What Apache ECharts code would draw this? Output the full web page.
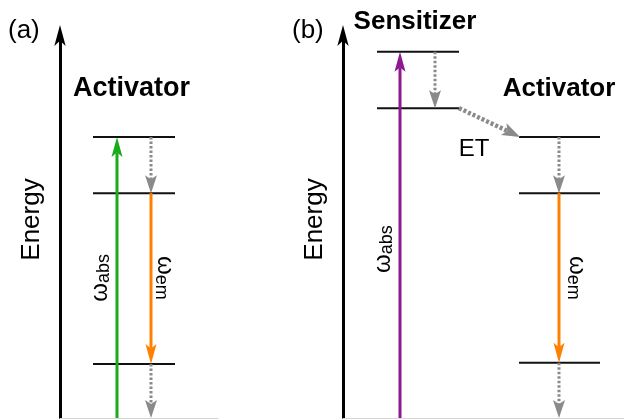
<!DOCTYPE html>
<html>
<head>
<meta charset="utf-8">
<script src="https://cdn.jsdelivr.net/npm/echarts@6/dist/echarts.min.js"></script>
<style>
html,body{margin:0;padding:0;background:#fff;}
#c{width:624px;height:419px;}
</style>
</head>
<body>
<div id="c"></div>
<script>
// ---------------- data (energies in arbitrary units) ----------------
const panelTitles = ['(a)', '(b)'];
const axisTitle = 'Energy';
const groundEnergy = 0;
const activatorLevelsA = [7.34, 5.87, 1.41];
const sensitizerLevelsB = [9.56, 8.09];
const activatorLevelsB = [7.34, 5.87, 1.44];
const nameActivator = 'Activator';
const nameSensitizer = 'Sensitizer';
const labelET = 'ET';
const subAbs = 'abs';
const subEm = 'em';
const omega = '\u03c9';

// ---------------- styles ----------------
const FONT = '"Liberation Sans", Arial, Helvetica, sans-serif';
const C_LEVEL = '#111111';
const C_GRAY = '#8a8a8a';
const C_GREEN = '#1aab1a';
const C_ORANGE = '#ff8000';
const C_PURPLE = '#8e1a8e';

function arrow(api, from, to, color, width, dash, headL, headW) {
  const p0 = api.coord(from), p1 = api.coord(to);
  const dx = p1[0] - p0[0], dy = p1[1] - p0[1];
  const len = Math.hypot(dx, dy);
  const ux = dx / len, uy = dy / len, nx = -uy, ny = ux;
  const notch = headL * 0.78;
  const se = [p1[0] - ux * notch, p1[1] - uy * notch];
  return [
    { type: 'line', shape: { x1: p0[0], y1: p0[1], x2: se[0], y2: se[1] },
      style: { stroke: color, lineWidth: width, lineDash: dash || null, lineCap: 'butt' } },
    { type: 'polygon', shape: { points: [
        [p1[0], p1[1]],
        [p1[0] - ux * headL + nx * headW / 2, p1[1] - uy * headL + ny * headW / 2],
        [se[0], se[1]],
        [p1[0] - ux * headL - nx * headW / 2, p1[1] - uy * headL - ny * headW / 2]
      ] }, style: { fill: color } }
  ];
}
function level(api, x1, x2, e) {
  const a = api.coord([x1, e]), b = api.coord([x2, e]);
  return { type: 'line', shape: { x1: a[0], y1: a[1], x2: b[0], y2: b[1] },
    style: { stroke: C_LEVEL, lineWidth: 2 } };
}
function text(api, x, e, str, size, bold, rot) {
  const p = api.coord([x, e]);
  return { type: 'text', x: p[0], y: p[1], rotation: rot || 0, z2: 10,
    style: { text: str, font: (bold ? 'bold ' : '') + size + 'px ' + FONT, fill: '#000',
      align: 'center', verticalAlign: 'middle', textAlign: 'center', textVerticalAlign: 'middle' } };
}
function omegaLabel(api, x, e, sub, rot) {
  const p = api.coord([x, e]);
  return { type: 'text', x: p[0], y: p[1], rotation: rot, z2: 10,
    style: { text: '{w|' + omega + '}{s|' + sub + '}', fill: '#000',
      align: 'center', verticalAlign: 'middle', textAlign: 'center', textVerticalAlign: 'middle',
      rich: {
        w: { fontSize: 24, fontFamily: FONT, lineHeight: 26, verticalAlign: 'middle', fill: '#000' },
        s: { fontSize: 18, fontFamily: FONT, lineHeight: 10, verticalAlign: 'bottom', fill: '#000' }
      } } };
}
const DOT = [2.5, 2];

function renderA(params, api) {
  const L = activatorLevelsA;
  const els = [];
  L.forEach(e => els.push(level(api, 33, 115, e)));
  els.push(...arrow(api, [57, groundEnergy], [57, L[0]], C_GREEN, 3, null, 20, 11));
  els.push(...arrow(api, [91, L[0]], [91, L[1]], C_GRAY, 3, DOT, 18, 12));
  els.push(...arrow(api, [91, L[1]], [91, L[2]], C_ORANGE, 3, null, 20, 11));
  els.push(...arrow(api, [91, L[2]], [91, groundEnergy], C_GRAY, 3, DOT, 18, 12));
  els.push(text(api, 71.5, 8.59, nameActivator, 27, true, 0));
  els.push(omegaLabel(api, 40, 3.66, subAbs, Math.PI / 2));
  els.push(omegaLabel(api, 105, 3.66, subEm, -Math.PI / 2));
  return { type: 'group', children: els };
}
function renderB(params, api) {
  const S = sensitizerLevelsB, A = activatorLevelsB;
  const els = [];
  S.forEach(e => els.push(level(api, 34, 116, e)));
  A.forEach(e => els.push(level(api, 176, 257, e)));
  els.push(...arrow(api, [57, groundEnergy], [57, S[0]], C_PURPLE, 3, null, 20, 11));
  els.push(...arrow(api, [92, S[0]], [92, S[1]], C_GRAY, 3, DOT, 18, 12));
  els.push(...arrow(api, [116, S[1]], [177, A[0]], C_GRAY, 4.5, [3, 2], 18, 13));
  els.push(...arrow(api, [216, A[0]], [216, A[1]], C_GRAY, 3, DOT, 18, 12));
  els.push(...arrow(api, [216, A[1]], [216, A[2]], C_ORANGE, 3, null, 20, 11));
  els.push(...arrow(api, [216, A[2]], [216, groundEnergy], C_GRAY, 3, DOT, 18, 12));
  els.push(text(api, 72, 10.34, nameSensitizer, 26, true, 0));
  els.push(text(api, 216, 8.59, nameActivator, 26, true, 0));
  els.push(text(api, 131, 7.02, labelET, 24, false, 0));
  els.push(omegaLabel(api, 40, 4.41, subAbs, Math.PI / 2));
  els.push(omegaLabel(api, 234, 3.66, subEm, -Math.PI / 2));
  return { type: 'group', children: els };
}

function yAx(i) {
  return { type: 'value', gridIndex: i, min: 0, max: 10,
    name: axisTitle, nameLocation: 'middle', nameRotate: 90, nameGap: 15,
    nameTextStyle: { fontSize: 26, fontFamily: FONT, color: '#000', padding: [0, 0, 0, 14] },
    axisLine: { show: true, onZero: false, symbol: ['none', 'arrow'], symbolSize: [8.5, 21],
      symbolOffset: [0, 10], lineStyle: { color: '#000', width: 3 } },
    axisTick: { show: false }, axisLabel: { show: false }, splitLine: { show: false } };
}
function xAx(i, max) {
  return { type: 'value', gridIndex: i, min: 0, max: max,
    axisLine: { show: true, onZero: false, lineStyle: { color: '#d6d6d6', width: 1 } },
    axisTick: { show: false }, axisLabel: { show: false }, splitLine: { show: false } };
}

const chart = echarts.init(document.getElementById('c'));
chart.setOption({
  animation: false,
  backgroundColor: '#fff',
  title: [
    { text: panelTitles[0], left: 8, top: 18, padding: 0,
      textStyle: { fontSize: 26, fontWeight: 'normal', fontFamily: FONT, color: '#000' } },
    { text: panelTitles[1], left: 292, top: 18, padding: 0,
      textStyle: { fontSize: 26, fontWeight: 'normal', fontFamily: FONT, color: '#000' } }
  ],
  grid: [
    { left: 60, top: 35, width: 158, height: 383, containLabel: false },
    { left: 343, top: 35, width: 281, height: 383, containLabel: false }
  ],
  xAxis: [xAx(0, 158), xAx(1, 281)],
  yAxis: [yAx(0), yAx(1)],
  series: [
    { type: 'custom', xAxisIndex: 0, yAxisIndex: 0, data: [[0, 0]], renderItem: renderA, silent: true, clip: false },
    { type: 'custom', xAxisIndex: 1, yAxisIndex: 1, data: [[0, 0]], renderItem: renderB, silent: true, clip: false }
  ]
});
</script>
</body>
</html>
